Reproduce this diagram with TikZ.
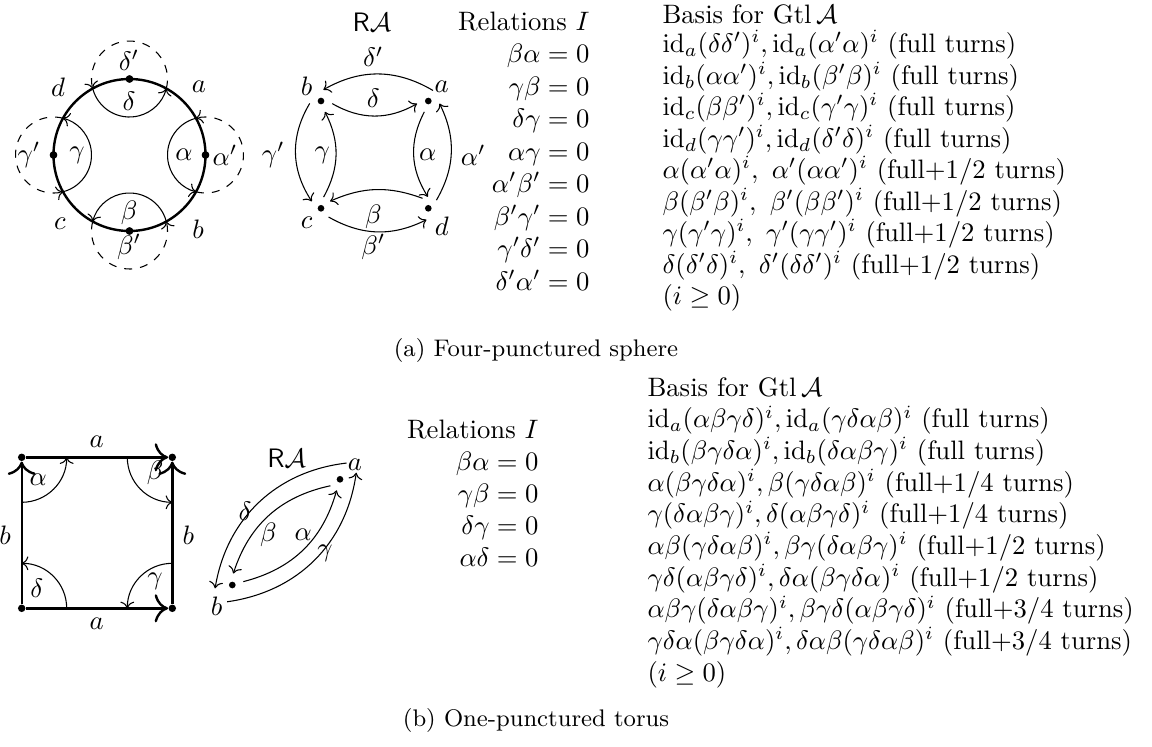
\documentclass[tikz,border=0pt]{standalone}
\usepackage{amsmath}
\usetikzlibrary{arrows.meta}
\begin{document}
\begin{tikzpicture}[x=0.375pt,y=0.375pt,
  lb/.style={inner sep=0pt},
  bd/.style={line width=0.9pt},
  bdar/.style={line width=0.9pt,-{To[scale=1.4]}},
  cdot/.style={circle,fill,inner sep=0pt,minimum size=2.8pt},
  qv/.style={circle,inner sep=0pt,minimum size=8.25pt,
     path picture={\fill (path picture bounding box.center) circle[radius=1.25pt];}},
  qvo/.style={circle,inner sep=0pt,minimum size=12.75pt},
  ln/.style={inner sep=0pt,anchor=base west},
  rn/.style={inner sep=0pt,anchor=base east},
  captxt/.style={inner sep=0pt,font=\small},
]
\useasboundingbox (0,0) rectangle (1152,-747);

% ---------- (a) four-punctured sphere: surface ----------
\coordinate (C) at (129.5,-155);
\node[cdot] (pT) at (129.5,-79) {};
\node[cdot] (pR) at (205.5,-155) {};
\node[cdot] (pB) at (129.5,-231) {};
\node[cdot] (pL) at (53.5,-155) {};
% delta / delta'
\draw[->] ([shift={(194.5:38)}]pT.center) arc[start angle=194.5,end angle=345.5,radius=38];
\draw[->,dashed] ([shift={(-14.5:38)}]pT.center) arc[start angle=-14.5,end angle=194.5,radius=38];
% alpha / alpha'
\draw[->] ([shift={(104.5:38)}]pR.center) arc[start angle=104.5,end angle=255.5,radius=38];
\draw[->,dashed] ([shift={(-104.5:38)}]pR.center) arc[start angle=-104.5,end angle=104.5,radius=38];
% beta / beta'
\draw[->] ([shift={(14.5:38)}]pB.center) arc[start angle=14.5,end angle=165.5,radius=38];
\draw[->,dashed] ([shift={(165.5:38)}]pB.center) arc[start angle=165.5,end angle=374.5,radius=38];
% gamma / gamma'
\draw[->] ([shift={(-75.5:38)}]pL.center) arc[start angle=-75.5,end angle=75.5,radius=38];
\draw[->,dashed] ([shift={(75.5:38)}]pL.center) arc[start angle=75.5,end angle=284.5,radius=38];
\draw[bd] (C) circle[radius=76];
\node[cdot] at (pT) {};
\node[cdot] at (pR) {};
\node[cdot] at (pB) {};
\node[cdot] at (pL) {};
\node[lb] (sdp) at (129,-60) {$\delta'$};
\node[lb] (sd) at (129,-101) {$\delta$};
\node[lb] (sa) at (184,-155) {$\alpha$};
\node[lb] (sap) at (225,-155) {$\alpha'$};
\node[lb] (sg) at (77,-155) {$\gamma$};
\node[lb] (sgp) at (29,-155) {$\gamma'$};
\node[lb] (sb) at (129,-213) {$\beta$};
\node[lb] (sbp) at (129,-247) {$\beta'$};
\node[lb] (sd0) at (58,-87) {$d$};
\node[lb] (sa0) at (199,-87) {$a$};
\node[lb] (sc0) at (60,-224) {$c$};
\node[lb] (sb0) at (198,-229) {$b$};

% ---------- (a) quiver ----------
\node[lb] (RA1) at (372,-22) {\textsf{R}$\mathcal{A}$};
\node[qv] (qa) at (428.3,-101) {};
\node[qv] (qb) at (321,-101) {};
\node[qv] (qc) at (321,-208.3) {};
\node[qv] (qd) at (428.3,-208.3) {};
\draw[->] (qa.66) to[bend right=30] (qb.78);
\draw[->] (qb.-13) to[bend right=30] (qa.193);
\draw[->] (qa.250) to[bend right=30] (qd.92);
\draw[->] (qd.45) to[bend right=28] (qa.-13);
\draw[->] (qd.120) to[bend right=22] (qc.38);
\draw[->] (qc.-49) to[bend right=28] (qd.261);
\draw[->] (qc.77) to[bend right=28] (qb.290);
\draw[->] (qb.192) to[bend right=32] (qc.143);
\node[lb] (qlb) at (306.7,-86.7) {$b$};
\node[lb] (qla) at (441.7,-86.7) {$a$};
\node[lb] (qlc) at (306.7,-222.7) {$c$};
\node[lb] (qld) at (441.7,-226.7) {$d$};
\node[lb] (qldp) at (373.3,-56.7) {$\delta'$};
\node[lb] (qld1) at (373.3,-98.3) {$\delta$};
\node[lb] (qlb1) at (373.3,-216.7) {$\beta$};
\node[lb] (qlb2) at (373.3,-247) {$\beta'$};
\node[lb] (qlg1) at (322.3,-155) {$\gamma$};
\node[lb] (qlg2) at (273.3,-155) {$\gamma'$};
\node[lb] (qla1) at (427.7,-155) {$\alpha$};
\node[lb] (qla2) at (473.3,-155) {$\alpha'$};

% ---------- (a) relations ----------
\node[rn] (r0) at (590,-30) {Relations $I$};
\node[rn] (r1) at (590,-62.5) {$\beta\alpha=0$};
\node[rn] (r2) at (590,-95) {$\gamma\beta=0$};
\node[rn] (r3) at (590,-127.5) {$\delta\gamma=0$};
\node[rn] (r4) at (590,-160) {$\alpha\gamma=0$};
\node[rn] (r5) at (590,-192.5) {$\alpha'\beta'=0$};
\node[rn] (r6) at (590,-225) {$\beta'\gamma'=0$};
\node[rn] (r7) at (590,-257.5) {$\gamma'\delta'=0$};
\node[rn] (r8) at (590,-290) {$\delta'\alpha'=0$};

% ---------- (a) basis ----------
\node[ln] (b0) at (662,-23) {Basis for $\operatorname{Gtl}\mathcal{A}$};
\node[ln] (b1) at (662,-52.5) {$\mathrm{id}_a(\delta\delta')^i,\mathrm{id}_a(\alpha'\alpha)^i$ (full turns)};
\node[ln] (b2) at (662,-84) {$\mathrm{id}_b(\alpha\alpha')^i,\mathrm{id}_b(\beta'\beta)^i$ (full turns)};
\node[ln] (b3) at (662,-115.5) {$\mathrm{id}_c(\beta\beta')^i,\mathrm{id}_c(\gamma'\gamma)^i$ (full turns)};
\node[ln] (b4) at (662,-147) {$\mathrm{id}_d(\gamma\gamma')^i,\mathrm{id}_d(\delta'\delta)^i$ (full turns)};
\node[ln] (b5) at (662,-178.5) {$\alpha(\alpha'\alpha)^i,\ \alpha'(\alpha\alpha')^i$ (full+1/2 turns)};
\node[ln] (b6) at (662,-210) {$\beta(\beta'\beta)^i,\ \beta'(\beta\beta')^i$ (full+1/2 turns)};
\node[ln] (b7) at (662,-241.5) {$\gamma(\gamma'\gamma)^i,\ \gamma'(\gamma\gamma')^i$ (full+1/2 turns)};
\node[ln] (b8) at (662,-273) {$\delta(\delta'\delta)^i,\ \delta'(\delta\delta')^i$ (full+1/2 turns)};
\node[ln] (b9) at (662,-304.5) {$(i\geq 0)$};

\node[captxt] (capa) at (536,-350) {(a) Four-punctured sphere};

% ---------- (b) one-punctured torus: square ----------
\node[cdot] (tl) at (21.7,-457.3) {};
\node[cdot] (tr) at (172.3,-457.3) {};
\node[cdot] (bl) at (21.7,-608.3) {};
\node[cdot] (br) at (172.3,-608.3) {};
\draw[bdar] (bl) -- (tl);
\draw[bdar] (tl) -- (tr);
\draw[bdar] (br) -- (tr);
\draw[bdar] (bl) -- (br);
\draw[->] ([shift={(-90:45)}]tl.center) arc[start angle=-90,end angle=0,radius=45];
\draw[->] ([shift={(180:45)}]tr.center) arc[start angle=180,end angle=270,radius=45];
\draw[->] ([shift={(90:45)}]br.center) arc[start angle=90,end angle=180,radius=45];
\draw[->] ([shift={(0:45)}]bl.center) arc[start angle=0,end angle=90,radius=45];
\node[lb] (ta1) at (96.7,-441.7) {$a$};
\node[lb] (ta2) at (96.7,-623.3) {$a$};
\node[lb] (tb1) at (5,-535) {$b$};
\node[lb] (tb2) at (188.3,-535) {$b$};
\node[lb] (tal) at (38.3,-480) {$\alpha$};
\node[lb] (tbe) at (155,-473.3) {$\beta$};
\node[lb] (tga) at (155,-581.7) {$\gamma$};
\node[lb] (tde) at (36.7,-588.3) {$\delta$};

% ---------- (b) quiver ----------
\node[lb] (RA2) at (286.7,-458.3) {\textsf{R}$\mathcal{A}$};
\node[qv] (qA) at (340,-479.3) {};
\node[qv] (qB) at (232.3,-585) {};
\node[qvo] (qAo) at (qA) {};
\node[qvo] (qBo) at (qB) {};
\draw[->] (qAo.68) to[bend right=37] (qBo.191);
\draw[->] (qA.214) to[bend right=30] (qB.85);
\draw[->] (qB.17) to[bend right=30] (qA.253);
\draw[->] (qBo.253) to[bend right=37] (qAo.22);
\node[lb] (qlA) at (355,-465) {$a$};
\node[lb] (qlB) at (216.7,-606.7) {$b$};
\node[lb] (qlde) at (245,-511.7) {$\delta$};
\node[lb] (qlbe) at (268.3,-535) {$\beta$};
\node[lb] (qlal) at (303.3,-535) {$\alpha$};
\node[lb] (qlga) at (325,-553.3) {$\gamma$};

% ---------- (b) relations ----------
\node[rn] (s0) at (539,-438) {Relations $I$};
\node[rn] (s1) at (539,-470) {$\beta\alpha=0$};
\node[rn] (s2) at (539,-502) {$\gamma\beta=0$};
\node[rn] (s3) at (539,-534) {$\delta\gamma=0$};
\node[rn] (s4) at (539,-566) {$\alpha\delta=0$};

% ---------- (b) basis ----------
\node[ln] (c0) at (647,-396) {Basis for $\operatorname{Gtl}\mathcal{A}$};
\node[ln] (c1) at (647,-427.7) {$\mathrm{id}_a(\alpha\beta\gamma\delta)^i,\mathrm{id}_a(\gamma\delta\alpha\beta)^i$ (full turns)};
\node[ln] (c2) at (647,-459.4) {$\mathrm{id}_b(\beta\gamma\delta\alpha)^i,\mathrm{id}_b(\delta\alpha\beta\gamma)^i$ (full turns)};
\node[ln] (c3) at (647,-491.1) {$\alpha(\beta\gamma\delta\alpha)^i,\beta(\gamma\delta\alpha\beta)^i$ (full+1/4 turns)};
\node[ln] (c4) at (647,-522.8) {$\gamma(\delta\alpha\beta\gamma)^i,\delta(\alpha\beta\gamma\delta)^i$ (full+1/4 turns)};
\node[ln] (c5) at (647,-554.5) {$\alpha\beta(\gamma\delta\alpha\beta)^i,\beta\gamma(\delta\alpha\beta\gamma)^i$ (full+1/2 turns)};
\node[ln] (c6) at (647,-586.2) {$\gamma\delta(\alpha\beta\gamma\delta)^i,\delta\alpha(\beta\gamma\delta\alpha)^i$ (full+1/2 turns)};
\node[ln] (c7) at (647,-617.9) {$\alpha\beta\gamma(\delta\alpha\beta\gamma)^i,\beta\gamma\delta(\alpha\beta\gamma\delta)^i$ (full+3/4 turns)};
\node[ln] (c8) at (647,-649.6) {$\gamma\delta\alpha(\beta\gamma\delta\alpha)^i,\delta\alpha\beta(\gamma\delta\alpha\beta)^i$ (full+3/4 turns)};
\node[ln] (c9) at (647,-681.3) {$(i\geq 0)$};

\node[captxt] (capb) at (536,-720) {(b) One-punctured torus};
\end{tikzpicture}
\end{document}
